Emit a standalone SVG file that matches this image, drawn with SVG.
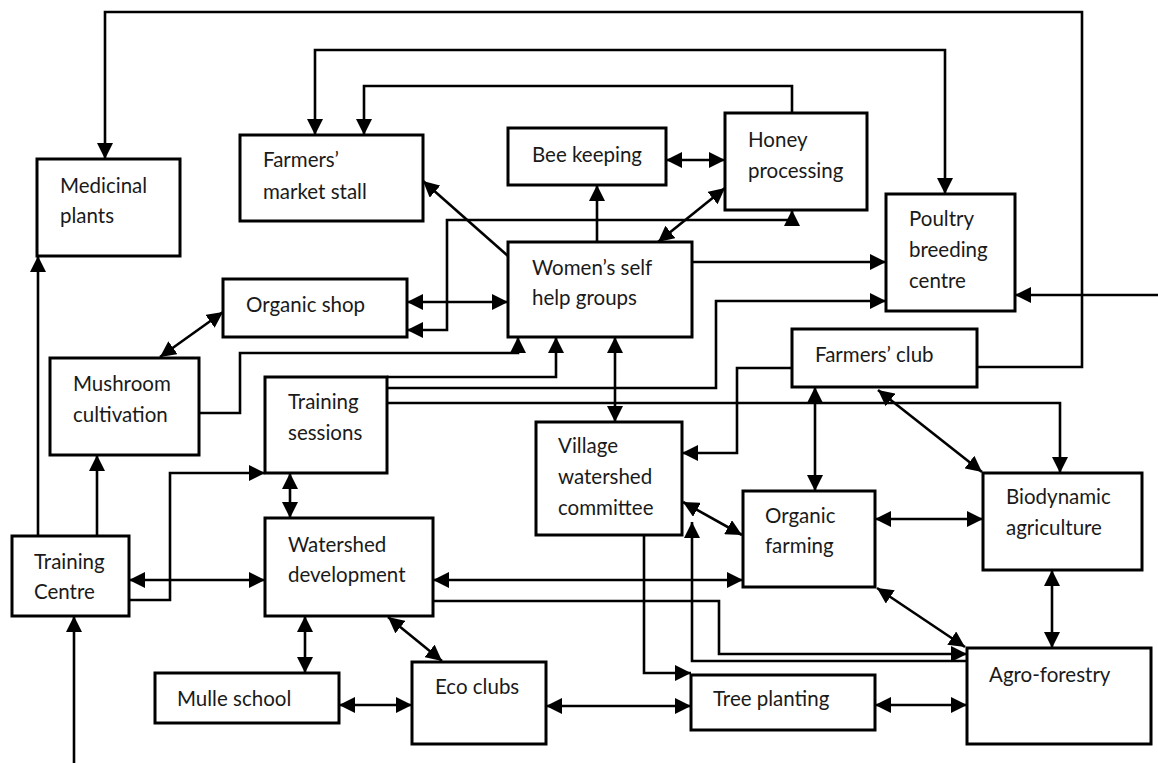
<svg xmlns="http://www.w3.org/2000/svg" width="1158" height="763" viewBox="0 0 1158 763">
<defs>
<marker id="ah" markerUnits="userSpaceOnUse" markerWidth="17" markerHeight="16" refX="16" refY="8" orient="auto-start-reverse" viewBox="0 0 17 16">
<path d="M0,0 L16,8 L0,16 z" fill="#000"/>
</marker>
<style>
.box{fill:#fff;stroke:#000;stroke-width:3}
.t{font-family:Lato,"Liberation Sans",sans-serif;font-size:20.5px;fill:#1a1a1a}
.c path{fill:none;stroke:#000;stroke-width:2.6}
.e{marker-end:url(#ah)}
.b{marker-start:url(#ah);marker-end:url(#ah)}
</style>
</defs>
<rect width="1158" height="763" fill="#fff"/>
<g class="c" id="connectors">
<path class="e" d="M977,367 H1082 V12 H105 V159"/>
<path class="b" d="M315,135 V50 H945 V194"/>
<path class="e" d="M792,113 V86 H364 V135"/>
<path class="b" d="M666,160 H725"/>
<path class="e" d="M597,242 V185"/>
<path class="b" d="M658,242 L725,188"/>
<path class="e" d="M508,256 L423,181"/>
<path class="b" d="M407,302 H508"/>
<path class="b" d="M407,330 H447 V220 H792 V210"/>
<path class="e" d="M199,413 H240 V353 H518 V337"/>
<path class="e" d="M387,377 H556 V337"/>
<path class="e" d="M387,388 H716 V301 H886"/>
<path class="e" d="M692,262 H886"/>
<path class="e" d="M1158,295 H1015"/>
<path class="e" d="M387,403 H1060 V473"/>
<path class="b" d="M615,337 V422"/>
<path class="e" d="M792,368 H737 V453 H682"/>
<path class="b" d="M815,387 V491"/>
<path class="b" d="M878,390 L982,472"/>
<path class="b" d="M683,502 L742,535"/>
<path class="e" d="M967,661 H692 V522"/>
<path class="e" d="M433,601 H719 V654 H967"/>
<path class="b" d="M433,580 H743"/>
<path class="e" d="M644,535 V673 H691"/>
<path class="b" d="M290,473 V518"/>
<path class="b" d="M129,580 H265"/>
<path class="e" d="M129,600 H170 V473 H265"/>
<path class="e" d="M38,536 V256"/>
<path class="e" d="M97,536 V455"/>
<path class="e" d="M74,763 V616"/>
<path class="b" d="M305,616 V673"/>
<path class="b" d="M388,617 L442,661"/>
<path class="b" d="M339,705 H412"/>
<path class="b" d="M546,706 H691"/>
<path class="b" d="M875,705 H967"/>
<path class="b" d="M875,519 H983"/>
<path class="b" d="M1052,570 V648"/>
<path class="b" d="M877,588 L965,647"/>
<path class="b" d="M160,357 L223,312"/>
</g>
<g id="medicinal"><rect class="box" x="37" y="159" width="143" height="97"/><text class="t" x="60" y="193">Medicinal</text><text class="t" x="60" y="223">plants</text></g>
<g id="market"><rect class="box" x="240" y="135" width="183" height="86"/><text class="t" x="263" y="167">Farmers’</text><text class="t" x="263" y="199">market stall</text></g>
<g id="bee"><rect class="box" x="508" y="128" width="158" height="57"/><text class="t" x="532" y="162">Bee keeping</text></g>
<g id="honey"><rect class="box" x="725" y="113" width="142" height="97"/><text class="t" x="748" y="147">Honey</text><text class="t" x="748" y="178">processing</text></g>
<g id="poultry"><rect class="box" x="886" y="194" width="129" height="117"/><text class="t" x="909" y="226">Poultry</text><text class="t" x="909" y="257">breeding</text><text class="t" x="909" y="288">centre</text></g>
<g id="organicshop"><rect class="box" x="223" y="279" width="184" height="58"/><text class="t" x="246" y="312">Organic shop</text></g>
<g id="wshg"><rect class="box" x="508" y="242" width="184" height="95"/><text class="t" x="532" y="275">Women’s self</text><text class="t" x="532" y="305">help groups</text></g>
<g id="mushroom"><rect class="box" x="50" y="358" width="149" height="97"/><text class="t" x="73" y="391">Mushroom</text><text class="t" x="73" y="422">cultivation</text></g>
<g id="sessions"><rect class="box" x="265" y="377" width="122" height="96"/><text class="t" x="288" y="409">Training</text><text class="t" x="288" y="440">sessions</text></g>
<g id="fclub"><rect class="box" x="792" y="329" width="185" height="58"/><text class="t" x="815" y="362">Farmers’ club</text></g>
<g id="village"><rect class="box" x="536" y="422" width="146" height="113"/><text class="t" x="558" y="453">Village</text><text class="t" x="558" y="484">watershed</text><text class="t" x="558" y="515">committee</text></g>
<g id="organicfarming"><rect class="box" x="743" y="491" width="132" height="96"/><text class="t" x="765" y="523">Organic</text><text class="t" x="765" y="553">farming</text></g>
<g id="biodynamic"><rect class="box" x="983" y="473" width="159" height="97"/><text class="t" x="1006" y="504">Biodynamic</text><text class="t" x="1006" y="535">agriculture</text></g>
<g id="tcentre"><rect class="box" x="12" y="536" width="117" height="80"/><text class="t" x="34" y="569">Training</text><text class="t" x="34" y="599">Centre</text></g>
<g id="watershed"><rect class="box" x="265" y="518" width="168" height="98"/><text class="t" x="288" y="552">Watershed</text><text class="t" x="288" y="582">development</text></g>
<g id="mulle"><rect class="box" x="155" y="673" width="184" height="50"/><text class="t" x="177" y="706">Mulle school</text></g>
<g id="eco"><rect class="box" x="412" y="662" width="134" height="82"/><text class="t" x="435" y="694">Eco clubs</text></g>
<g id="tree"><rect class="box" x="691" y="675" width="184" height="55"/><text class="t" x="713" y="706">Tree planting</text></g>
<g id="agro"><rect class="box" x="967" y="648" width="184" height="96"/><text class="t" x="989" y="682">Agro-forestry</text></g>
</svg>
